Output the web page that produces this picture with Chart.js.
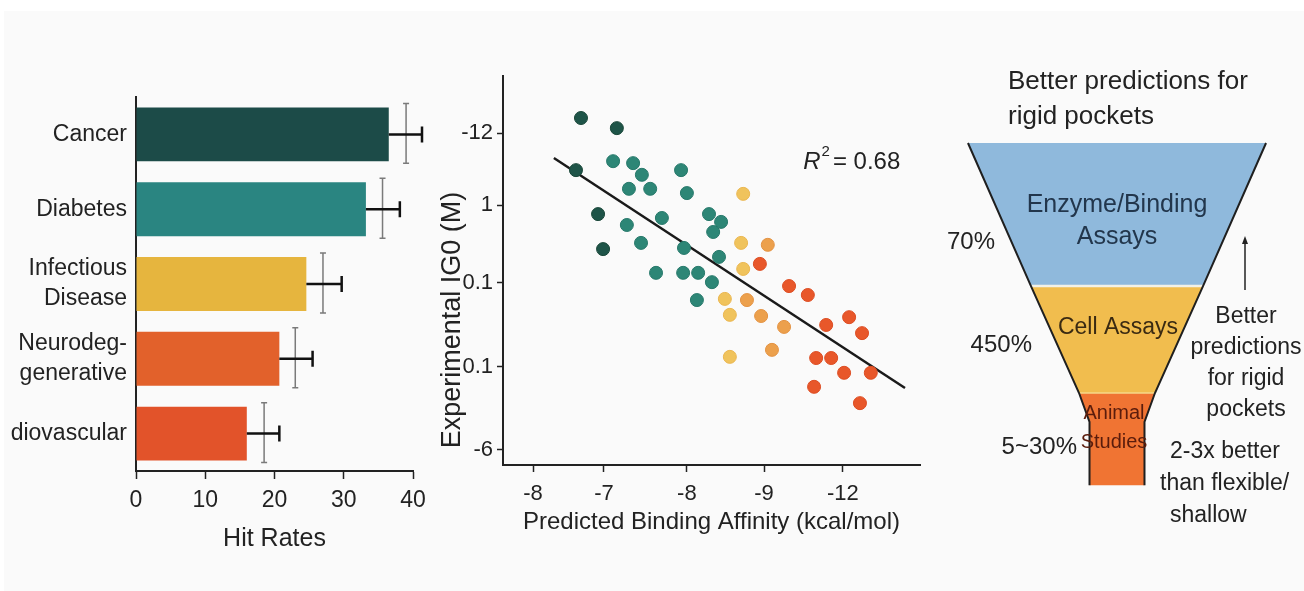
<!DOCTYPE html>
<html>
<head>
<meta charset="utf-8">
<script src="https://cdn.jsdelivr.net/npm/chart.js@4.4.1/dist/chart.umd.min.js"></script>
<style>
html,body{margin:0;padding:0;background:#fff;width:1304px;height:591px;overflow:hidden}
#bg{position:absolute;left:4px;top:11px;right:0;bottom:0;background:#fafafa}
canvas{position:absolute;top:0}
</style>
</head>
<body>
<div id="bg"></div>
<canvas id="bars" width="440" height="591" style="left:0"></canvas>
<canvas id="scatter" width="500" height="591" style="left:430px"></canvas>
<canvas id="funnel" width="374" height="591" style="left:930px"></canvas>
<script>
// hit rate bars
const categories = ['Cancer', 'Diabetes', ['Infectious', 'Disease'], ['Neurodeg-', 'generative'], 'diovascular']
const hitRates = [36.5, 33.2, 24.6, 20.7, 16.0]
const hitErrHigh = [41.3, 38.1, 29.7, 25.5, 20.7]
const hitSpread = [39.0, 35.6, 27.0, 23.0, 18.5]
const barColors = ['#1c4b48', '#2a8581', '#e6b53e', '#e2612b', '#e2532a']

// scatter (axis units)
const xTickPos = [7.2, 24.2, 44.1, 62.6, 81.5]
const xTickLabels = ['-8', '-7', '-8', '-9', '-12']
const yTickPos = [85.3, 66.8, 46.8, 25.2, 3.9]
const yTickLabels = ['-12', '1', '0.1', '0.1', '-6']
const darkX = [18.7, 27.3, 17.5, 22.8, 24.0]
const darkY = [89.2, 86.6, 75.8, 64.5, 55.5]
const tealX = [26.4, 31.2, 33.3, 30.2, 35.3, 42.7, 44.1, 38.1, 29.7, 33.1, 49.4, 52.3, 50.4, 43.4, 51.8, 36.7, 43.2, 46.8, 50.1, 46.5]
const tealY = [78.1, 77.6, 74.6, 71.0, 71.0, 75.8, 69.9, 63.5, 61.7, 57.1, 64.5, 62.5, 59.9, 55.8, 53.5, 49.4, 49.4, 49.4, 47.0, 42.4]
const yellowX = [57.6, 57.1, 57.6, 53.2, 54.4, 54.4]
const yellowY = [69.7, 57.1, 50.4, 42.7, 38.6, 27.8]
const amberX = [63.5, 58.5, 61.9, 67.4, 64.5]
const amberY = [56.6, 42.4, 38.3, 35.5, 29.6]
const redX = [61.6, 68.6, 73.1, 77.5, 83.0, 86.1, 75.1, 78.7, 81.8, 88.2, 74.6, 85.6]
const redY = [51.7, 46.0, 43.7, 36.0, 38.0, 33.9, 27.5, 27.5, 23.7, 23.7, 20.1, 15.9]
const fitX = [12.2, 96.4]
const fitY = [78.9, 19.8]
const rSquared = 0.68

// funnel
const stageNames = [['Enzyme/Binding', 'Assays'], ['Cell Assays'], ['Animal', 'Studies']]
const stageShares = ['70%', '450%', '5~30%']
const stageColors = ['#8fb9dc', '#f1bd4e', '#f07433']
const funnelDepth = [24.2, 48.4, 66.5, 71.4, 82.1]
const funnelHalf = [79.7, 46.0, 20.3, 14.7, 14.7]

Chart.defaults.font.family = '"Liberation Sans", Arial, sans-serif'
Chart.defaults.color = '#222'

const pts = (xs, ys) => xs.map((x, i) => ({x, y: ys[i]}))

const barErrors = {
  id: 'barErrors',
  afterDatasetsDraw(chart){
    const {ctx, scales: {x}} = chart
    chart.getDatasetMeta(0).data.forEach((bar, i) => {
      const yc = bar.y, h = bar.height
      const x0 = x.getPixelForValue(hitRates[i])
      const x1 = x.getPixelForValue(hitErrHigh[i])
      const xs = x.getPixelForValue(hitSpread[i])
      const t = yc - h/2 - 4, b = yc + h/2 + 2
      ctx.save()
      ctx.strokeStyle = '#7a7a7a'; ctx.lineWidth = 1.5
      ctx.beginPath()
      ctx.moveTo(xs, t); ctx.lineTo(xs, b)
      ctx.moveTo(xs-3, t); ctx.lineTo(xs+3, t)
      ctx.moveTo(xs-3, b); ctx.lineTo(xs+3, b)
      ctx.stroke()
      ctx.strokeStyle = '#111'; ctx.lineWidth = 2.5
      ctx.beginPath()
      ctx.moveTo(x0, yc); ctx.lineTo(x1, yc)
      ctx.moveTo(x1, yc-8); ctx.lineTo(x1, yc+8)
      ctx.stroke()
      ctx.restore()
    })
  }
}

new Chart(document.getElementById('bars'), {
  type: 'bar',
  data: {labels: categories, datasets: [{data: hitRates, backgroundColor: barColors, barPercentage: 0.9, categoryPercentage: 0.8}]},
  options: {
    indexAxis: 'y', responsive: false, animation: false,
    layout: {padding: {top: 97, right: 27, bottom: 37, left: 0}},
    plugins: {legend: {display: false}, tooltip: {enabled: false}},
    scales: {
      x: {
        min: 0, max: 40,
        ticks: {stepSize: 10, font: {size: 23}, padding: 8, color: '#222'},
        grid: {display: true, drawOnChartArea: false, tickLength: 8, tickColor: '#222', tickWidth: 1.5},
        border: {color: '#222', width: 2},
        title: {display: true, text: 'Hit Rates', font: {size: 25}, padding: 0, color: '#222'},
        afterFit: s => { s.height = 83 }
      },
      y: {
        ticks: {font: {size: 23, lineHeight: 1.3}, padding: 9, color: '#222'},
        grid: {display: false, drawTicks: false},
        border: {color: '#222', width: 2},
        afterFit: s => { s.width = 136 }
      }
    }
  },
  plugins: [barErrors]
})

const scatterText = {
  id: 'scatterText',
  afterDraw(chart){
    const {ctx, scales: {x}, chartArea} = chart
    ctx.save()
    ctx.fillStyle = '#222'
    ctx.textBaseline = 'middle'
    // R^2 label
    let px = x.getPixelForValue(72), py = chartArea.top + 86
    ctx.font = 'italic 24px "Liberation Sans", Arial, sans-serif'
    ctx.fillText('R', px, py)
    px += ctx.measureText('R').width + 1
    ctx.font = '15px "Liberation Sans", Arial, sans-serif'
    ctx.fillText('2', px, py - 10)
    px += ctx.measureText('2').width + 3
    ctx.font = '24px "Liberation Sans", Arial, sans-serif'
    ctx.fillText('= ' + rSquared.toFixed(2), px, py)
    // y title
    ctx.translate(23, 320)
    ctx.rotate(-Math.PI/2)
    ctx.textAlign = 'center'
    ctx.font = '27px "Liberation Sans", Arial, sans-serif'
    ctx.fillText('Experimental IG0 (M)', 0, 0)
    ctx.restore()
  }
}

const dot = (data, color, border) => ({type: 'scatter', data, backgroundColor: color, borderColor: border, borderWidth: 1, pointRadius: 6.5})

new Chart(document.getElementById('scatter'), {
  data: {datasets: [
    dot(pts(darkX, darkY), '#1e5448', '#194638'),
    dot(pts(tealX, tealY), '#2d8676', '#26786a'),
    dot(pts(yellowX, yellowY), '#f0c35c', '#eab650'),
    dot(pts(amberX, amberY), '#eca04c', '#e39242'),
    dot(pts(redX, redY), '#e8572a', '#dc4c22'),
    {type: 'line', data: pts(fitX, fitY), borderColor: '#1a1a1a', borderWidth: 2.5, pointRadius: 0, fill: false}
  ]},
  options: {
    responsive: false, animation: false,
    layout: {padding: {top: 76, right: 10, bottom: 54, left: 0}},
    plugins: {legend: {display: false}, tooltip: {enabled: false}},
    scales: {
      x: {
        type: 'linear', min: 0, max: 100,
        afterBuildTicks: s => { s.ticks = xTickPos.map(v => ({value: v})) },
        ticks: {autoSkip: false, callback: (v, i) => xTickLabels[i], font: {size: 22}, padding: 9, color: '#222'},
        grid: {display: true, drawOnChartArea: false, tickLength: 7, tickColor: '#222', tickWidth: 1.5},
        border: {color: '#222', width: 2},
        title: {display: true, text: 'Predicted Binding Affinity (kcal/mol)', font: {size: 24}, padding: 0, color: '#222'},
        afterFit: s => { s.height = 72 }
      },
      y: {
        type: 'linear', min: 0, max: 100,
        afterBuildTicks: s => { s.ticks = yTickPos.map(v => ({value: v})) },
        ticks: {autoSkip: false, callback: (v, i) => yTickLabels[i], font: {size: 22}, padding: 4, color: '#222'},
        grid: {display: true, drawOnChartArea: false, tickLength: 6, tickColor: '#222', tickWidth: 1.5},
        border: {color: '#222', width: 2},
        afterFit: s => { s.width = 73 }
      }
    }
  },
  plugins: [scatterText]
})

const funnelDraw = {
  id: 'funnelDraw',
  beforeDatasetsDraw(chart){
    const {ctx, scales: {x, y}} = chart
    const poly = (d0, d1, h0, h1) => {
      ctx.beginPath()
      ctx.moveTo(x.getPixelForValue(-h0), y.getPixelForValue(d0))
      ctx.lineTo(x.getPixelForValue(h0), y.getPixelForValue(d0))
      ctx.lineTo(x.getPixelForValue(h1), y.getPixelForValue(d1))
      ctx.lineTo(x.getPixelForValue(-h1), y.getPixelForValue(d1))
      ctx.closePath()
      ctx.fill()
    }
    ctx.save()
    ctx.fillStyle = stageColors[0]
    poly(funnelDepth[0], funnelDepth[1], funnelHalf[0], funnelHalf[1])
    ctx.fillStyle = stageColors[1]
    poly(funnelDepth[1], funnelDepth[2], funnelHalf[1], funnelHalf[2])
    ctx.fillStyle = stageColors[2]
    poly(funnelDepth[2], funnelDepth[3], funnelHalf[2], funnelHalf[3])
    poly(funnelDepth[3], funnelDepth[4], funnelHalf[3], funnelHalf[4])
    // separators
    ctx.lineWidth = 2.5
    ctx.strokeStyle = '#f3f1e6'
    ctx.beginPath()
    ctx.moveTo(x.getPixelForValue(-funnelHalf[1]), y.getPixelForValue(funnelDepth[1]))
    ctx.lineTo(x.getPixelForValue(funnelHalf[1]), y.getPixelForValue(funnelDepth[1]))
    ctx.stroke()
    ctx.lineWidth = 1.5
    ctx.strokeStyle = '#f6d98a'
    ctx.beginPath()
    ctx.moveTo(x.getPixelForValue(-funnelHalf[2]), y.getPixelForValue(funnelDepth[2]))
    ctx.lineTo(x.getPixelForValue(funnelHalf[2]), y.getPixelForValue(funnelDepth[2]))
    ctx.stroke()
    ctx.restore()
  },
  afterDraw(chart){
    const {ctx, scales: {x}} = chart
    const F = s => s + 'px "Liberation Sans", Arial, sans-serif'
    const lines = (arr, px, py, step) => arr.forEach((t, i) => ctx.fillText(t, px, py + i*step))
    ctx.save()
    ctx.textBaseline = 'middle'
    ctx.fillStyle = '#222'
    ctx.font = F(26)
    ctx.textAlign = 'left'
    lines(['Better predictions for', 'rigid pockets'], 78, 82, 35)
    ctx.font = F(23)
    lines(['2-3x better'], 240, 452, 0)
    lines(['than flexible/'], 230, 484, 0)
    lines(['shallow'], 240, 516, 0)
    ctx.font = F(24)
    ctx.textAlign = 'right'
    ctx.fillText(stageShares[0], 65, 242)
    ctx.fillText(stageShares[1], 102, 345)
    ctx.fillText(stageShares[2], 147, 447)
    ctx.textAlign = 'center'
    ctx.font = F(23)
    lines(['Better', 'predictions', 'for rigid', 'pockets'], 316, 317, 31)
    const cx = x.getPixelForValue(0)
    ctx.fillStyle = '#22364c'
    ctx.font = F(25)
    lines(stageNames[0], cx, 205, 32)
    ctx.fillStyle = '#3a2a12'
    ctx.font = F(23)
    lines(stageNames[1], cx + 1, 328, 0)
    ctx.fillStyle = '#5a1c0c'
    ctx.font = F(20)
    lines(stageNames[2], cx - 3, 413, 29)
    // arrow
    ctx.strokeStyle = '#222'; ctx.fillStyle = '#222'; ctx.lineWidth = 1.5
    ctx.beginPath(); ctx.moveTo(315, 290); ctx.lineTo(315, 242); ctx.stroke()
    ctx.beginPath(); ctx.moveTo(315, 236); ctx.lineTo(312, 244); ctx.lineTo(318, 244); ctx.closePath(); ctx.fill()
    ctx.restore()
  }
}

const edge = side => ({
  type: 'line',
  data: funnelDepth.map((d, i) => ({x: side * funnelHalf[i], y: d})),
  borderColor: '#1f1f1f', borderWidth: 2, pointRadius: 0, fill: false, tension: 0
})

new Chart(document.getElementById('funnel'), {
  data: {datasets: [edge(-1), edge(1)]},
  options: {
    responsive: false, animation: false,
    layout: {padding: 0},
    plugins: {legend: {display: false}, tooltip: {enabled: false}},
    scales: {
      x: {type: 'linear', min: -100, max: 100, display: false},
      y: {type: 'linear', min: 0, max: 100, reverse: true, display: false}
    }
  },
  plugins: [funnelDraw]
})
</script>
</body>
</html>
